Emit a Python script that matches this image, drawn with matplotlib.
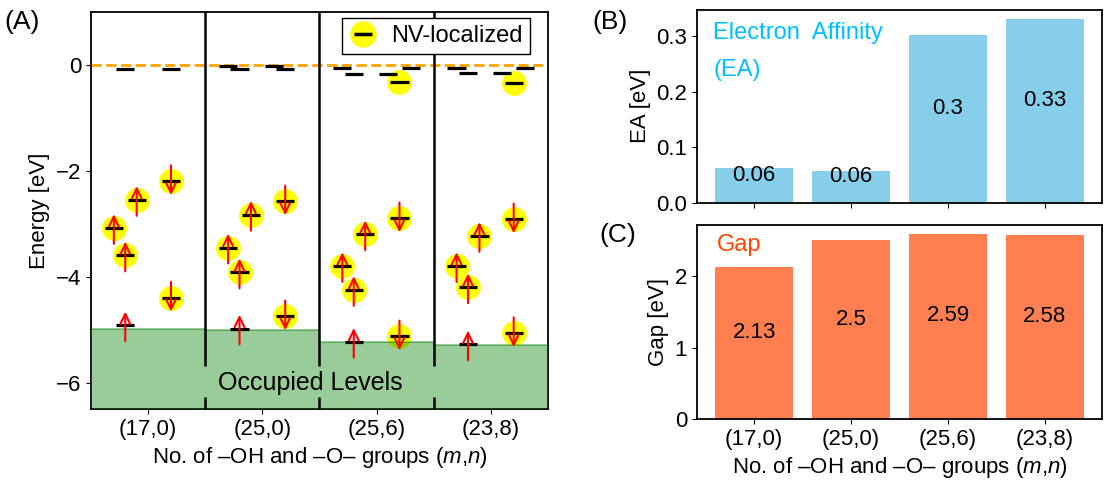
import numpy as np
import matplotlib
matplotlib.use("Agg")
import matplotlib.pyplot as plt
from matplotlib.lines import Line2D

plt.rcParams['font.family'] = ['Liberation Sans', 'DejaVu Sans']
plt.rcParams['mathtext.fontset'] = 'custom'
plt.rcParams['mathtext.it'] = 'Liberation Sans:italic'
plt.rcParams['mathtext.rm'] = 'Liberation Sans'
plt.rcParams['font.size'] = 16
plt.rcParams['axes.linewidth'] = 1.3

# structures (m,n)
groups = ["(17,0)", "(25,0)", "(25,6)", "(23,8)"]

# panel A: levels as (x offset in group, energy [eV], spin: 1 up / -1 down / 0 none, NV-localized)
levels = [
    # (17,0)
    [(-0.1, -2.55, 1, True), (-0.3, -3.08, 1, True), (-0.2, -3.60, 1, True), (-0.2, -4.92, 1, False),
     (-0.2, -0.07, 0, False), (0.2, -2.20, -1, True), (0.2, -4.40, -1, True), (0.2, -0.07, 0, False)],
    # (25,0)
    [(-0.1, -2.83, 1, True), (-0.3, -3.45, 1, True), (-0.2, -3.92, 1, True), (-0.2, -4.98, 1, False),
     (-0.3, -0.02, 0, False), (-0.2, -0.07, 0, False), (0.2, -2.58, -1, True), (0.2, -4.75, -1, True),
     (0.1, -0.02, 0, False), (0.2, -0.07, 0, False)],
    # (25,6)
    [(-0.1, -3.20, 1, True), (-0.3, -3.80, 1, True), (-0.2, -4.25, 1, True), (-0.2, -5.23, 1, False),
     (-0.3, -0.05, 0, False), (-0.2, -0.17, 0, False), (0.2, -2.90, -1, True), (0.2, -5.13, -1, True),
     (0.1, -0.17, 0, False), (0.2, -0.32, 0, True), (0.3, -0.05, 0, False)],
    # (23,8)
    [(-0.1, -3.23, 1, True), (-0.3, -3.80, 1, True), (-0.2, -4.20, 1, True), (-0.2, -5.28, 1, False),
     (-0.3, -0.05, 0, False), (-0.2, -0.16, 0, False), (0.2, -2.92, -1, True), (0.2, -5.07, -1, True),
     (0.1, -0.16, 0, False), (0.2, -0.34, 0, True), (0.3, -0.05, 0, False)],
]
occupied_top = [-4.98, -5.00, -5.23, -5.30]

# panels B and C
ea = [0.062, 0.058, 0.302, 0.331]
gap = [2.13, 2.50, 2.59, 2.58]

fig = plt.figure(figsize=(11.07, 4.83), dpi=100)
axA = fig.add_axes([0.0822, 0.1532, 0.4128, 0.822])
axB = fig.add_axes([0.6296, 0.5797, 0.3659, 0.4005])
axC = fig.add_axes([0.6296, 0.1325, 0.3659, 0.4023])

# ---- panel A ----
ymin, ymax = -6.5, 1.0
axA.axhline(0, color='orange', ls='--', lw=2, zorder=1)
for i, lev in enumerate(levels):
    for dx, e, spin, nv in lev:
        x = i + dx
        if nv:
            axA.scatter(x, e, s=320, color='yellow', zorder=2, linewidths=0)
        axA.hlines(e, x - 0.08, x + 0.08, color='black', lw=2.3, zorder=4)
        if spin != 0:
            axA.annotate('', xy=(x, e + 0.26 * spin), xytext=(x, e - 0.30 * spin),
                         arrowprops=dict(arrowstyle='->,head_length=0.45,head_width=0.22',
                                         color='red', lw=1.5, shrinkA=0, shrinkB=0),
                         zorder=5)
    # occupied region, filled up to the highest occupied level
    axA.fill_between([i - 0.5, i + 0.5], ymin, occupied_top[i], color='green',
                     alpha=0.4, lw=0, zorder=3)
    axA.plot([i - 0.5, i + 0.5], [occupied_top[i]] * 2, color='green', alpha=0.4,
             lw=1.5, zorder=3)

for xd in [0.5, 1.5, 2.5]:
    axA.vlines(xd, -5.68, ymax, color='black', lw=1.8, zorder=6)
    axA.vlines(xd, ymin, -6.28, color='black', lw=1.8, zorder=6)
axA.text(1.42, -6.0, 'Occupied Levels', ha='center', va='center', fontsize=18, zorder=7)

axA.set_xlim(-0.5, 3.5)
axA.set_ylim(ymin, ymax)
axA.set_xticks(range(len(groups)))
axA.set_xticklabels(groups)
axA.set_yticks([-6, -4, -2, 0])
axA.set_ylabel('Energy [eV]')
axA.set_xlabel('No. of \u2013OH and \u2013O\u2013 groups ($m$,$n$)')

nv_handle = (Line2D([], [], marker='o', ls='', markersize=18, color='yellow'),
             Line2D([], [], marker='_', ls='', markersize=13, markeredgewidth=2.5, color='black'))
leg = axA.legend([nv_handle], ['NV-localized'], loc='upper right', bbox_to_anchor=(0.961, 0.985),
                 borderaxespad=0, fancybox=False, framealpha=1, edgecolor='black',
                 handlelength=1.2, handletextpad=0.6, borderpad=0.3, fontsize=17)
leg.set_zorder(10)

# ---- panel B ----
xb = np.arange(len(groups))
axB.bar(xb, ea, width=0.8, color='skyblue')
for xi, v in zip(xb, ea):
    axB.text(xi, v / 2, f'{round(v, 2):g}', ha='center', va='bottom', fontsize=16)
axB.set_xticks(xb)
axB.set_xticklabels([])
axB.set_yticks([0.0, 0.1, 0.2, 0.3])
axB.set_ylabel('EA [eV]')
axB.text(0.04, 0.88, 'Electron  Affinity', transform=axB.transAxes, color='deepskyblue',
         ha='left', va='center', fontsize=17)
axB.text(0.04, 0.69, '(EA)', transform=axB.transAxes, color='deepskyblue',
         ha='left', va='center', fontsize=17)

# ---- panel C ----
axC.bar(xb, gap, width=0.8, color='coral')
for xi, v in zip(xb, gap):
    axC.text(xi, v / 2, f'{round(v, 2):g}', ha='center', va='bottom', fontsize=16)
axC.set_xticks(xb)
axC.set_xticklabels(groups)
axC.set_yticks([0, 1, 2])
axC.set_ylabel('Gap [eV]')
axC.set_xlabel('No. of \u2013OH and \u2013O\u2013 groups ($m$,$n$)')
axC.text(0.05, 0.895, 'Gap', transform=axC.transAxes, color='orangered',
         ha='left', va='center', fontsize=17)

fig.text(0.004, 0.955, '(A)', fontsize=19, va='center')
fig.text(0.535, 0.955, '(B)', fontsize=19, va='center')
fig.text(0.541, 0.513, '(C)', fontsize=19, va='center')

fig.savefig('out.png', dpi=100)
